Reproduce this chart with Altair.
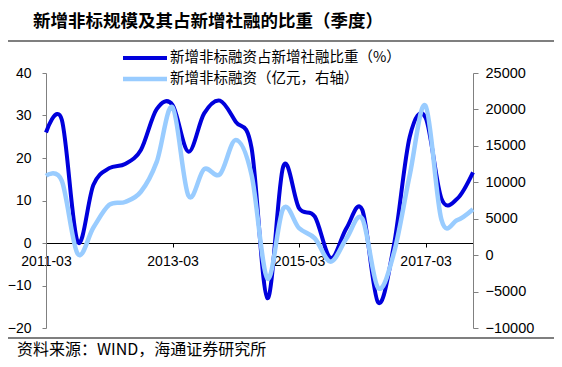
import json
import altair as alt
import pandas as pd

title_text = "新增非标规模及其占新增社融的比重（季度）"
source_text = "资料来源：WIND，海通证券研究所"
series_names = ["新增非标融资占新增社融比重（%）", "新增非标融资（亿元，右轴）"]

quarters = [
    "2011-03", "2011-06", "2011-09", "2011-12",
    "2012-03", "2012-06", "2012-09", "2012-12",
    "2013-03", "2013-06", "2013-09", "2013-12",
    "2014-03", "2014-06", "2014-09", "2014-12",
    "2015-03", "2015-06", "2015-09", "2015-12",
    "2016-03", "2016-06", "2016-09", "2016-12",
    "2017-03", "2017-06", "2017-09", "2017-12",
]
# share of new non-standard financing in new social financing (%), left axis
ratio = [26.0, 29.0, 0.3, 13.7, 17.6, 18.6, 21.9, 31.5,
         32.5, 21.5, 30.5, 33.5, 28.5, 22.3, -13.0, 18.0,
         8.2, 6.2, -3.5, 3.5, 7.8, -14.0, -0.5, 25.0,
         29.5, 10.5, 10.4, 16.6]
# new non-standard financing (100 million yuan), right axis
amount = [10900, 10200, 200, 3800, 6900, 7300, 8700, 12800,
          20300, 8200, 11800, 11100, 15800, 11000, -3200, 6400,
          3700, 2300, -900, 2300, 5000, -4500, 300, 11000,
          20500, 4900, 4800, 6300]

left_ticks = [-20, -10, 0, 10, 20, 30, 40]
right_ticks = [-10000, -5000, 0, 5000, 10000, 15000, 20000, 25000]
x_label_quarters = ["2011-03", "2013-03", "2015-03", "2017-03"]

DARK = "#0000DC"
LIGHT = "#99CCFF"
W, H = 427, 255
LAT = "Liberation Sans"
CJK = "Noto Sans CJK SC"

df = pd.DataFrame({"i": list(range(len(quarters))), "q": quarters,
                   "ratio": ratio, "amount": amount})

x_enc = alt.X(
    "i:Q",
    scale=alt.Scale(domain=[0, len(quarters) - 1], nice=False, zero=False),
    axis=alt.Axis(
        values=[quarters.index(q) for q in x_label_quarters],
        labelExpr=json.dumps(quarters) + "[datum.value]",
        offset=-85, domainColor="black", domainWidth=1,
        tickColor="black", tickSize=4, labelPadding=7, labelFlush=False,
        labelFont=LAT, labelFontSize=14, labelColor="black",
        grid=False, title=None,
    ),
)

dark = alt.Chart(df).mark_line(
    color=DARK, strokeWidth=4, interpolate="cardinal"
).encode(
    x=x_enc,
    y=alt.Y("ratio:Q",
            scale=alt.Scale(domain=[-20, 40], nice=False, zero=False),
            axis=alt.Axis(values=left_ticks, orient="left", grid=False, title=None,
                          domainColor="#808080", tickColor="#808080", tickSize=4,
                          labelPadding=11, labelFont=LAT, labelFontSize=14,
                          labelColor="black")),
)

light = alt.Chart(df).mark_line(
    color=LIGHT, strokeWidth=4.5, interpolate="cardinal"
).encode(
    x=x_enc,
    y=alt.Y("amount:Q",
            scale=alt.Scale(domain=[-10000, 25000], nice=False, zero=False),
            axis=alt.Axis(values=right_ticks, orient="right", grid=False, title=None,
                          format="d",
                          domainColor="#808080", tickColor="#808080", tickSize=5,
                          labelPadding=7, labelFont=LAT, labelFontSize=14.5,
                          labelColor="black")),
)

one = alt.Data(values=[{}])

def hline(y, x1=-38, x2=508, w=1.2):
    return alt.Chart(one).mark_rule(color="black", strokeWidth=w).encode(
        x=alt.value(x1), x2=alt.value(x2), y=alt.value(y))

def label(txt, x, y, size, weight="normal", baseline="middle"):
    return alt.Chart(one).mark_text(
        text=txt, align="left", baseline=baseline, font=CJK, fontSize=size,
        fontWeight=weight, color="black"
    ).encode(x=alt.value(x), y=alt.value(y))

leg1 = alt.Chart(one).mark_rule(color=DARK, strokeWidth=4).encode(
    x=alt.value(77), x2=alt.value(121), y=alt.value(-15))
leg2 = alt.Chart(one).mark_rule(color=LIGHT, strokeWidth=4.5).encode(
    x=alt.value(77), x2=alt.value(121), y=alt.value(6))

chart = alt.layer(
    dark, light,
    hline(-32), hline(265),
    label(title_text, -13, -51, 17.5, "bold"),
    leg1, leg2,
    label(series_names[0], 124, -15, 14.5),
    label(series_names[1], 124, 6, 14.5),
    label(source_text, -29, 285, 16, baseline="bottom"),
).resolve_scale(y="independent").properties(
    width=W, height=H,
    autosize=alt.AutoSizeParams(type="none"),
    padding={"left": 38, "top": 65, "right": 81, "bottom": 31},
).configure_view(stroke=None)

chart.save("out.html", embed_options={"renderer": "svg", "actions": False})
